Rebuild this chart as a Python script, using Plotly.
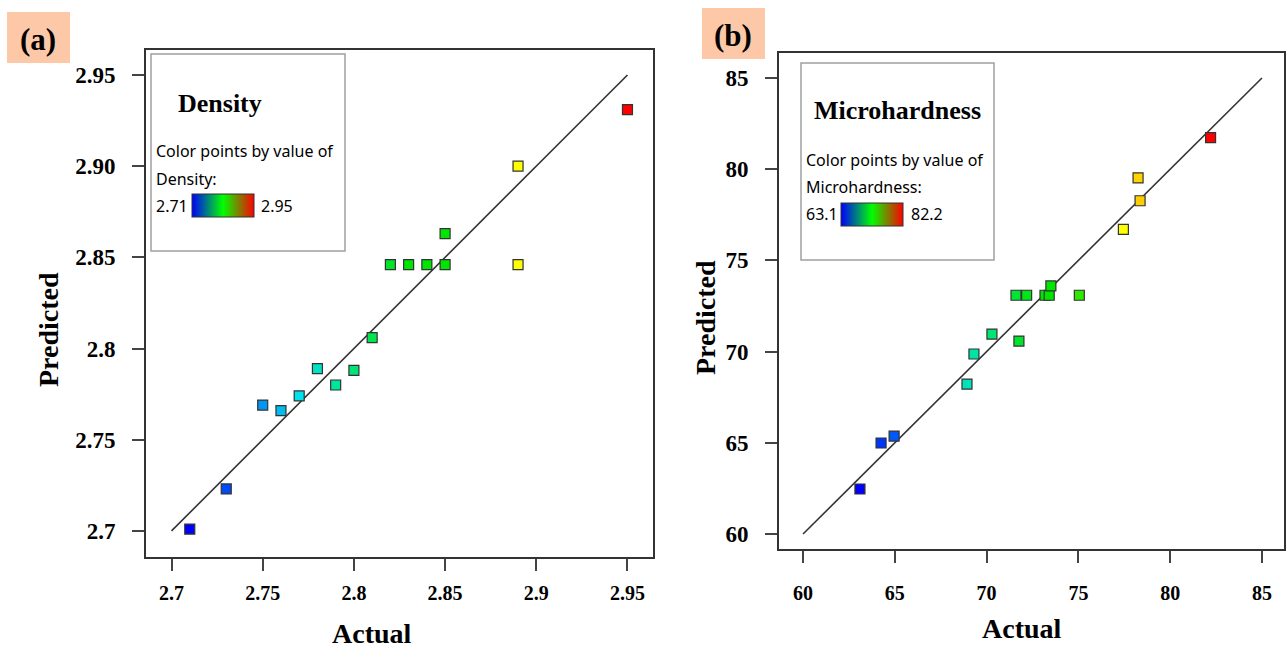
import plotly.graph_objects as go

# ---------------- data ----------------
density_actual = [2.71, 2.73, 2.75, 2.76, 2.77, 2.78, 2.79, 2.80, 2.81,
                  2.82, 2.83, 2.84, 2.85, 2.85, 2.89, 2.89, 2.95]
density_pred = [2.701, 2.723, 2.769, 2.766, 2.774, 2.789, 2.780, 2.788, 2.806,
                2.846, 2.846, 2.846, 2.846, 2.863, 2.900, 2.846, 2.931]

mh_actual = [63.1, 64.25, 64.96, 68.93, 69.31, 70.29, 71.76, 71.60, 72.18,
             73.18, 73.41, 75.05, 73.50, 77.45, 78.25, 78.36, 82.2]
mh_pred = [62.47, 64.99, 65.37, 68.22, 69.87, 70.96, 70.58, 73.09, 73.09,
           73.09, 73.09, 73.09, 73.60, 76.70, 79.53, 78.27, 81.73]

density_range = [2.71, 2.95]
mh_range = [63.1, 82.2]
line_a = [2.7, 2.95]
line_b = [60, 85]

xa_ticks = [2.7, 2.75, 2.8, 2.85, 2.9, 2.95]
xa_text = ["2.7", "2.75", "2.8", "2.85", "2.9", "2.95"]
ya_ticks = [2.7, 2.75, 2.8, 2.85, 2.9, 2.95]
ya_text = ["2.7", "2.75", "2.8", "2.85", "2.90", "2.95"]
b_ticks = [60, 65, 70, 75, 80, 85]

# ---------------- styling ----------------
W, H = 1286, 651
SERIF = "Liberation Serif"
SANS = "Noto Sans"

point_scale = [[0, "rgb(0,0,255)"], [0.25, "rgb(0,225,235)"], [0.5, "rgb(0,230,0)"],
               [0.6, "rgb(0,230,0)"], [0.75, "rgb(255,255,0)"], [1, "rgb(255,0,0)"]]
bar_scale = [[0, "rgb(0,0,255)"], [0.5, "rgb(0,255,0)"], [1, "rgb(255,0,0)"]]


def px_x(p):
    return p / W


def px_y(p):
    return 1 - p / H


fig = go.Figure()

# diagonal lines
fig.add_trace(go.Scatter(x=line_a, y=line_a, mode="lines", line=dict(color="#333", width=1.6),
                         xaxis="x", yaxis="y", showlegend=False, hoverinfo="skip"))
fig.add_trace(go.Scatter(x=line_b, y=line_b, mode="lines", line=dict(color="#333", width=1.6),
                         xaxis="x2", yaxis="y2", showlegend=False, hoverinfo="skip"))

# points
fig.add_trace(go.Scatter(x=density_actual, y=density_pred, mode="markers", xaxis="x", yaxis="y",
                         marker=dict(symbol="square", size=10, color=density_actual,
                                     colorscale=point_scale, cmin=density_range[0], cmax=density_range[1],
                                     line=dict(color="#333", width=1.2), showscale=False),
                         showlegend=False))
fig.add_trace(go.Scatter(x=mh_actual, y=mh_pred, mode="markers", xaxis="x2", yaxis="y2",
                         marker=dict(symbol="square", size=10, color=mh_actual,
                                     colorscale=point_scale, cmin=mh_range[0], cmax=mh_range[1],
                                     line=dict(color="#333", width=1.2), showscale=False),
                         showlegend=False))


def legend_bar(xaxis, yaxis, rng, x0, y0, length, thick):
    return go.Scatter(x=[None], y=[None], mode="markers", xaxis=xaxis, yaxis=yaxis,
                      showlegend=False, hoverinfo="skip",
                      marker=dict(color=[rng[0]], cmin=rng[0], cmax=rng[1], colorscale=bar_scale,
                                  showscale=True,
                                  colorbar=dict(orientation="h", x=px_x(x0), xanchor="left",
                                                y=px_y(y0), yanchor="top", len=length, lenmode="pixels",
                                                thickness=thick, thicknessmode="pixels",
                                                outlinewidth=1, outlinecolor="#333",
                                                showticklabels=False, ticks="", xpad=0, ypad=0)))


fig.add_trace(legend_bar("x", "y", density_range, 192, 194, 62, 23))
fig.add_trace(legend_bar("x2", "y2", mh_range, 841, 203, 62, 23))

tickfont_y = dict(family=SERIF, size=23, color="black", weight="bold")
tickfont_x = dict(family=SERIF, size=20, color="black", weight="bold")
common = dict(showline=True, mirror=True, linecolor="#333", linewidth=2, showgrid=False,
              zeroline=False, ticks="outside", ticklen=12, tickwidth=1.5, tickcolor="#444")

fig.update_layout(
    width=W, height=H,
    margin=dict(l=0, r=0, t=0, b=0, pad=0, autoexpand=False),
    paper_bgcolor="white", plot_bgcolor="white",
    xaxis=dict(domain=[px_x(146), px_x(653)], range=[2.686, 2.964], anchor="y",
               tickvals=xa_ticks, ticktext=xa_text, tickfont=tickfont_x, ticklabelstandoff=5, **common),
    yaxis=dict(domain=[px_y(557), px_y(50)], range=[2.6857, 2.9637], anchor="x",
               tickvals=ya_ticks, ticktext=ya_text, tickfont=tickfont_y, ticklabelstandoff=12, **common),
    xaxis2=dict(domain=[px_x(779), px_x(1284)], range=[58.69, 86.2], anchor="y2",
                tickvals=b_ticks, tickfont=tickfont_x, ticklabelstandoff=13, **common),
    yaxis2=dict(domain=[px_y(549), px_y(53)], range=[59.18, 86.37], anchor="x2",
                tickvals=b_ticks, tickfont=tickfont_y, ticklabelstandoff=12, **common),
)

shapes = []
# legend boxes
shapes.append(dict(type="rect", xref="paper", yref="paper", x0=px_x(151), x1=px_x(345),
                   y0=px_y(251), y1=px_y(54), line=dict(color="#a0a0a0", width=1.5),
                   fillcolor="white", layer="above"))
shapes.append(dict(type="rect", xref="paper", yref="paper", x0=px_x(801), x1=px_x(994),
                   y0=px_y(260), y1=px_y(63), line=dict(color="#a0a0a0", width=1.5),
                   fillcolor="white", layer="above"))
# panel label backgrounds
shapes.append(dict(type="rect", xref="paper", yref="paper", x0=px_x(7), x1=px_x(70),
                   y0=px_y(63), y1=px_y(12), line=dict(width=0), fillcolor="#fcc8a8", layer="above"))
shapes.append(dict(type="rect", xref="paper", yref="paper", x0=px_x(702), x1=px_x(765),
                   y0=px_y(59), y1=px_y(8), line=dict(width=0), fillcolor="#fcc8a8", layer="above"))
fig.update_layout(shapes=shapes)

ann = []


def txt(text, x, y, size, family=SERIF, bold=False, xanchor="center", angle=0):
    ann.append(dict(text=text, x=px_x(x), y=px_y(y), xref="paper", yref="paper",
                    xanchor=xanchor, yanchor="middle", showarrow=False, textangle=angle,
                    font=dict(family=family, size=size, color="black",
                              weight="bold" if bold else "normal")))


txt("(a)", 38, 40, 31, bold=True)
txt("(b)", 733, 36, 31, bold=True)
txt("Actual", 372, 633, 28, bold=True)
txt("Actual", 1022, 628, 28, bold=True)
txt("Predicted", 48, 330, 28, bold=True, angle=-90)
txt("Predicted", 705, 318, 28, bold=True, angle=-90)

# legend (a)
txt("Density", 220, 103, 26, bold=True)
txt("Color points by value of", 154, 151, 16, family=SANS, xanchor="left")
txt("Density:", 154, 179, 16, family=SANS, xanchor="left")
txt("2.71", 154, 206, 16, family=SANS, xanchor="left")
txt("2.95", 259, 206, 16, family=SANS, xanchor="left")
# legend (b)
txt("Microhardness", 897, 110, 26, bold=True)
txt("Color points by value of", 804, 160, 16, family=SANS, xanchor="left")
txt("Microhardness:", 804, 187, 16, family=SANS, xanchor="left")
txt("63.1", 804, 214, 16, family=SANS, xanchor="left")
txt("82.2", 909, 214, 16, family=SANS, xanchor="left")

fig.update_layout(annotations=ann)

fig.write_html("out.html")
